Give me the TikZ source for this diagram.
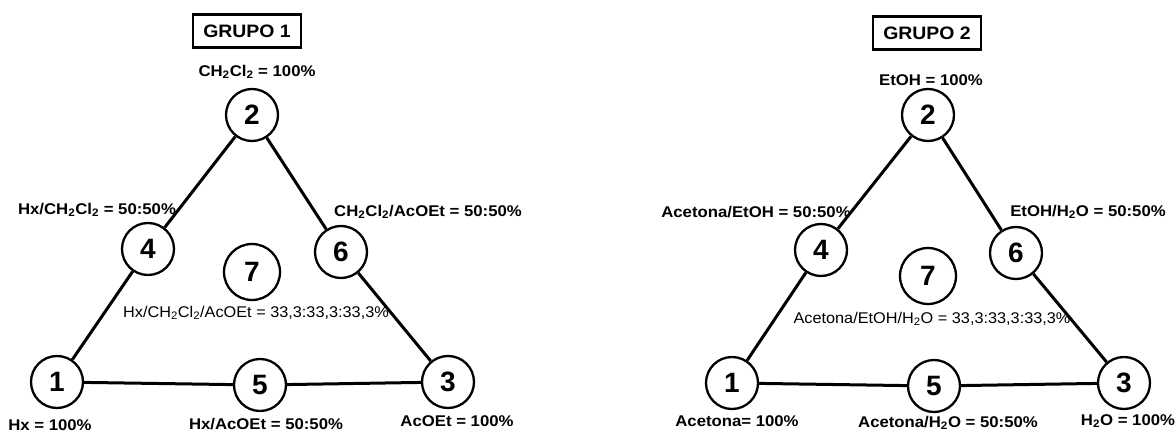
\documentclass[tikz,border=0pt]{standalone}
\usepackage{fontspec}
\setmainfont{Liberation Sans}
\newcommand\sx[1]{\scalebox{1.08}[1]{#1}}
\newcommand\sxc[1]{\scalebox{1.05}[1]{#1}}
\tikzset{
  num/.style={circle,draw,line width=2.3pt,minimum size=52pt,inner sep=0pt,
    font=\fontsize{28}{30}\selectfont\bfseries},
  lbl/.style={font=\fontsize{15.5}{17}\selectfont\bfseries,inner sep=0pt},
  clbl/.style={font=\fontsize{15.5}{17}\selectfont,inner sep=0pt},
  grp/.style={draw,line width=2.5pt,minimum width=108pt,minimum height=33pt,inner sep=0pt,
    font=\fontsize{18}{20}\selectfont\bfseries},
  edge/.style={line width=3pt}
}
\begin{document}
\begin{tikzpicture}[x=1pt,y=-1pt]
\useasboundingbox (0,0) rectangle (1175,433);
% ---------- GRUPO 1 ----------
\node[grp] (g1) at (247,31) {\sx{GRUPO 1}};
\node[num] (a2) at (252,115) {2};
\node[num] (a4) at (148,249) {4};
\node[num] (a6) at (341,252) {6};
\node[num,minimum size=56pt] (a7) at (252,272) {7};
\node[num] (a1) at (57,382) {1};
\node[num] (a5) at (260,385) {5};
\node[num] (a3) at (448,382) {3};
\draw[edge] (a1) -- (a4);
\draw[edge] (a4) -- (a2);
\draw[edge] (a2) -- (a6);
\draw[edge] (a6) -- (a3);
\draw[edge] (a1) -- (a5);
\draw[edge] (a5) -- (a3);
\node[lbl] (la2) at (257,72) {\sx{CH\textsubscript{2}Cl\textsubscript{2} = 100\%}};
\node[lbl] (la4) at (97,210) {\sx{Hx/CH\textsubscript{2}Cl\textsubscript{2} = 50:50\%}};
\node[lbl] (la6) at (428,212) {\sx{CH\textsubscript{2}Cl\textsubscript{2}/AcOEt = 50:50\%}};
\node[clbl] (la7) at (256,313) {\sxc{Hx/CH\textsubscript{2}Cl\textsubscript{2}/AcOEt = 33,3:33,3:33,3\%}};
\node[lbl] (la1) at (50,425) {\sx{Hx = 100\%}};
\node[lbl] (la5) at (266,424) {\sx{Hx/AcOEt = 50:50\%}};
\node[lbl] (la3) at (457,421) {\sx{AcOEt = 100\%}};
% ---------- GRUPO 2 ----------
\node[grp] (g2) at (927,33) {\sx{GRUPO 2}};
\node[num] (b2) at (928,115) {2};
\node[num] (b4) at (821,250) {4};
\node[num] (b6) at (1016,253) {6};
\node[num,minimum size=56pt] (b7) at (928,276) {7};
\node[num] (b1) at (732,383) {1};
\node[num] (b5) at (934,386) {5};
\node[num] (b3) at (1124,383) {3};
\draw[edge] (b1) -- (b4);
\draw[edge] (b4) -- (b2);
\draw[edge] (b2) -- (b6);
\draw[edge] (b6) -- (b3);
\draw[edge] (b1) -- (b5);
\draw[edge] (b5) -- (b3);
\node[lbl] (lb2) at (931,80) {\sx{EtOH = 100\%}};
\node[lbl] (lb4) at (756,212) {\sx{Acetona/EtOH = 50:50\%}};
\node[lbl] (lb6) at (1088,212) {\sx{EtOH/H\textsubscript{2}O = 50:50\%}};
\node[clbl] (lb7) at (932,319) {\sxc{Acetona/EtOH/H\textsubscript{2}O = 33,3:33,3:33,3\%}};
\node[lbl] (lb1) at (737,421) {\sx{Acetona= 100\%}};
\node[lbl] (lb5) at (948,423) {\sx{Acetona/H\textsubscript{2}O = 50:50\%}};
\node[lbl] (lb3) at (1128,421) {\sx{H\textsubscript{2}O = 100\%}};
\end{tikzpicture}
\end{document}
